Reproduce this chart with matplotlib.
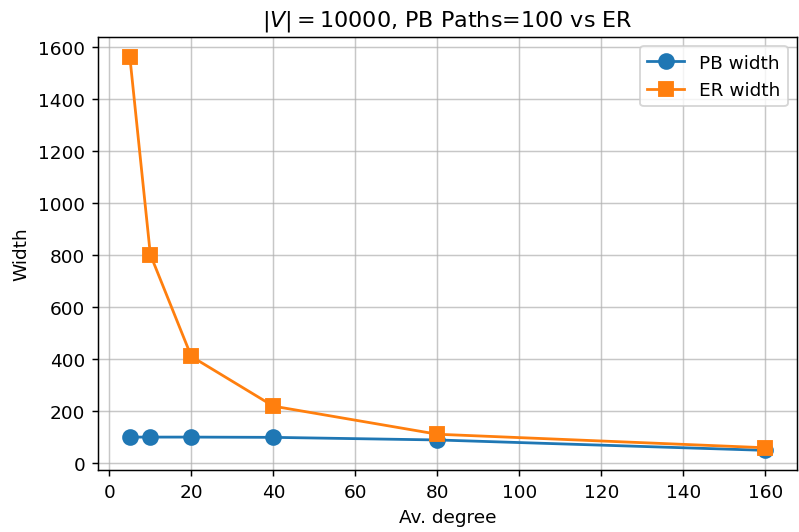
import matplotlib
matplotlib.use('Agg')
import matplotlib.pyplot as plt

degrees = [5, 10, 20, 40, 80, 160]
pb_width = [100, 100, 100, 99, 89, 49]
er_width = [1562, 802, 410, 219, 111, 59]

fig, ax = plt.subplots(figsize=(6, 4), dpi=133.2)
ax.plot(degrees, pb_width, marker='o', markersize=8, linewidth=1.5, label='PB width')
ax.plot(degrees, er_width, marker='s', markersize=8, linewidth=1.5, label='ER width')
ax.set_xlabel('Av. degree')
ax.set_ylabel('Width')
ax.set_title(r'$|V|=10000$, PB Paths=100 vs ER')
ax.grid(True, alpha=0.7)
ax.legend()
fig.subplots_adjust(left=0.1227, right=0.9975, bottom=0.1163, top=0.9287)
fig.savefig('out.png', dpi=133.2)
